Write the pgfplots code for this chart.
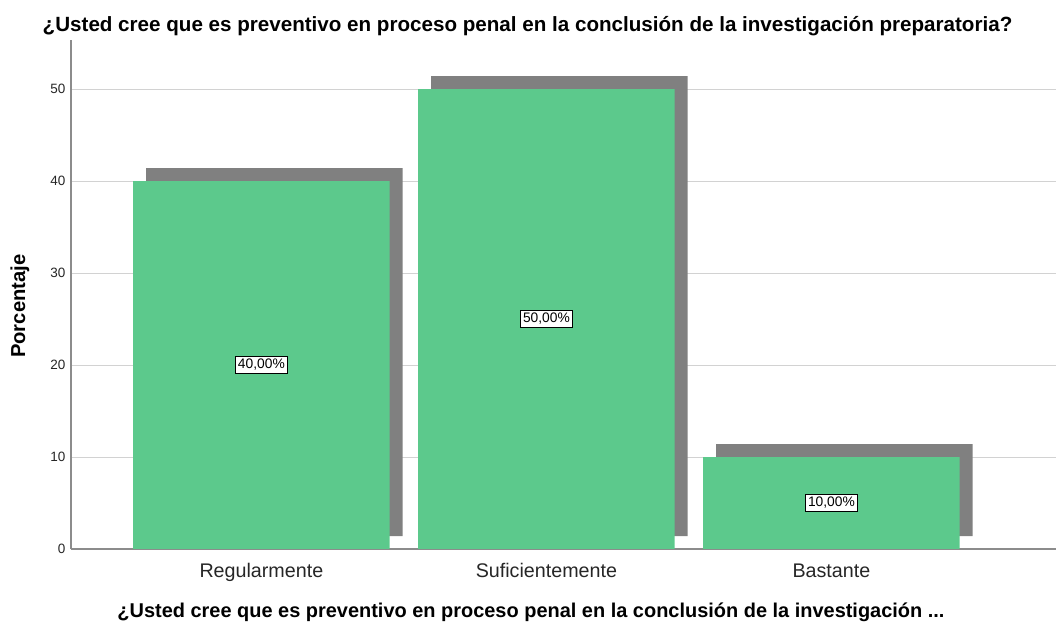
\documentclass[border=0pt]{standalone}
\usepackage{fontspec}
\setmainfont{Liberation Sans}
\usepackage{pgfplots}
\pgfplotsset{compat=1.18}
\definecolor{barverde}{RGB}{92,201,140}
\definecolor{sombra}{RGB}{128,128,128}
\definecolor{rejilla}{RGB}{210,210,210}
\definecolor{eje}{RGB}{140,140,140}

\pgfplotsset{
    marco/.style={
        scale only axis,
        width=985bp, height=509bp,
        at={(71bp,73bp)}, anchor=south west,
        xmin=-0.668, xmax=2.788,
        ymin=0, ymax=55.33,
        /pgf/number format/assume math mode=true,
    }
}

\begin{document}
\begin{tikzpicture}
    \path[use as bounding box] (0,0) rectangle (1056bp,622bp);

    % fondo: rejilla y sombras
    \begin{axis}[
            marco,
            axis line style={draw=none},
            xtick=\empty,
            ytick={10,20,30,40,50},
            yticklabels={},
            major tick length=0pt,
            ymajorgrids,
            grid style={rejilla, line width=1bp},
            ybar stacked,
            bar width=0.9,
        ]
        \addplot[draw=none, fill=none] coordinates {(0.0456,1.413) (1.0456,1.413) (2.0456,1.413)};
        \addplot[draw=none, fill=sombra] coordinates {(0.0456,40) (1.0456,50) (2.0456,10)};
    \end{axis}

    % barras, ejes y textos
    \begin{axis}[
            marco,
            axis x line*=bottom,
            axis y line*=left,
            axis line style={eje, line width=1.2bp},
            major tick length=0pt,
            ytick={0,10,20,30,40,50},
            xtick={0,1,2},
            xticklabels={Regularmente, Suficientemente, Bastante},
            yticklabel style={font=\fontsize{13.5bp}{16bp}\selectfont, text=black!85, xshift=-2bp},
            xticklabel style={font=\fontsize{19.7bp}{23bp}\selectfont, text=black!85, anchor=base, yshift=-28bp},
            title={¿Usted cree que es preventivo en proceso penal en la conclusión de la investigación preparatoria?},
            title style={font=\bfseries\fontsize{20.6bp}{24bp}\selectfont, at={(0.4635,1.004)}, anchor=base},
            xlabel={¿Usted cree que es preventivo en proceso penal en la conclusión de la investigación ...},
            xlabel style={font=\bfseries\fontsize{19.95bp}{24bp}\selectfont, at={(0.467,-0.1336)}, anchor=base},
            ylabel={Porcentaje},
            ylabel style={font=\bfseries\fontsize{20.2bp}{24bp}\selectfont, at={(-0.0518,0.477)}, anchor=center, rotate=0},
        ]
        \addplot[ybar, bar width=0.9, bar shift=0pt, draw=none, fill=barverde]
            coordinates {(0,40) (1,50) (2,10)};
        \addplot[draw=none, mark=none,
            nodes near coords,
            point meta=explicit symbolic,
            every node near coord/.style={
                anchor=center, fill=white, draw=black, line width=0.8bp,
                inner xsep=2.8bp, inner ysep=3bp,
                font=\fontsize{13.8bp}{16bp}\selectfont},
        ] coordinates {(0,20) [{40,00\%}] (1,25) [{50,00\%}] (2,5) [{10,00\%}]};
    \end{axis}
\end{tikzpicture}
\end{document}
